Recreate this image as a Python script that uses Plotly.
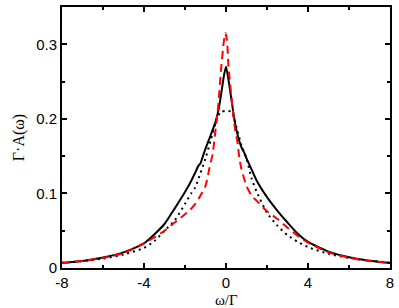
import plotly.graph_objects as go

# solid black curve
w_solid = [-8, -7, -6, -5, -4, -3.5, -3, -2.5, -2, -1.75, -1.5, -1.35, -1.25, -1.15, -1, -0.75,
           -0.5, -0.35, -0.2, -0.1, 0, 0.1, 0.2, 0.35, 0.5, 0.75, 0.9, 1, 1.1, 1.25, 1.5, 2,
           2.5, 3, 3.5, 4, 5, 6, 7, 8]
a_solid = [0.0067, 0.0095, 0.014, 0.021, 0.033, 0.045, 0.059, 0.08, 0.102, 0.114, 0.128, 0.137,
           0.140, 0.148, 0.16, 0.178, 0.197, 0.214, 0.24, 0.258, 0.27, 0.256, 0.238, 0.21,
           0.186, 0.162, 0.154, 0.147, 0.141, 0.132, 0.117, 0.095, 0.077, 0.061, 0.046, 0.035,
           0.022, 0.0145, 0.0098, 0.0067]

# red dashed curve
w_dash = [-8, -7, -6, -5, -4, -3.5, -3, -2.5, -2, -1.75, -1.5, -1.25, -1, -0.8, -0.65, -0.5,
          -0.38, -0.23, -0.1, -0.03, 0.05, 0.12, 0.2, 0.31, 0.45, 0.55, 0.65, 0.75, 1, 1.25,
          1.5, 2, 2.5, 3, 3.5, 4, 5, 6, 7, 8]
a_dash = [0.0067, 0.0095, 0.0135, 0.02, 0.033, 0.041, 0.05, 0.061, 0.072, 0.078, 0.086, 0.097,
          0.11, 0.135, 0.153, 0.188, 0.217, 0.27, 0.305, 0.315, 0.305, 0.27, 0.248, 0.217,
          0.185, 0.171, 0.148, 0.133, 0.11, 0.097, 0.09, 0.076, 0.066, 0.054, 0.043, 0.034,
          0.021, 0.014, 0.0095, 0.0067]

# black dotted curve
w_dot = [-8, -7, -6, -5, -4, -3.5, -3, -2.5, -2, -1.7, -1.5, -1.25, -1, -0.75, -0.5, -0.25,
         0, 0.25, 0.5, 0.75, 1, 1.25, 1.5, 2, 2.5, 3, 3.5, 4, 5, 6, 7, 8]
a_dot = [0.0072, 0.0093, 0.0125, 0.018, 0.027, 0.036, 0.05, 0.064, 0.086, 0.1, 0.108, 0.127,
         0.147, 0.171, 0.195, 0.21, 0.21, 0.21, 0.19, 0.165, 0.147, 0.12, 0.102, 0.074,
         0.057, 0.044, 0.035, 0.028, 0.019, 0.0135, 0.0098, 0.0072]

x_ticks = [-8, -4, 0, 4, 8]
x_labels = ["-8", "-4", "0", "4", "8"]
y_ticks = [0, 0.1, 0.2, 0.3]
y_labels = ["0", "0.1", "0.2", "0.3"]

fig = go.Figure()
fig.add_trace(go.Scatter(x=w_dot, y=a_dot, mode="lines",
                         line=dict(color="black", width=2, dash="2px,4px",
                                   shape="spline", smoothing=0.6)))
fig.add_trace(go.Scatter(x=w_solid, y=a_solid, mode="lines",
                         line=dict(color="black", width=2, shape="spline", smoothing=0.6)))
fig.add_trace(go.Scatter(x=w_dash, y=a_dash, mode="lines",
                         line=dict(color="#ff0000", width=2, dash="8px,5px",
                                   shape="spline", smoothing=0.6)))

axis_style = dict(showline=True, linecolor="black", linewidth=2, mirror="allticks",
                  ticks="inside", ticklen=5, tickwidth=1.5, tickcolor="black",
                  showgrid=False, zeroline=False,
                  tickfont=dict(family="Liberation Sans, Arial", size=15, color="black"))

fig.update_xaxes(range=[-8, 8], tickvals=x_ticks, ticktext=x_labels,
                 minor=dict(ticks="inside", ticklen=3, tickwidth=1.5, dtick=2,
                            tickcolor="black", showgrid=False),
                 **axis_style)
fig.update_yaxes(range=[0, 0.35], tickvals=y_ticks, ticktext=y_labels,
                 minor=dict(ticks="inside", ticklen=3, tickwidth=1.5, dtick=0.05,
                            tickcolor="black", showgrid=False),
                 title=dict(text="Γ·A(ω)", standoff=8,
                            font=dict(family="Liberation Serif, Times New Roman", size=16,
                                      color="black")),
                 **axis_style)

# x title placed as an annotation, just under the tick labels
fig.add_annotation(text="ω/Γ", xref="paper", yref="paper", x=0.5, y=-0.086,
                   xanchor="center", yanchor="top", showarrow=False,
                   font=dict(family="Liberation Serif, Times New Roman", size=15,
                             color="black"))

fig.update_layout(width=399, height=308, showlegend=False,
                  plot_bgcolor="white", paper_bgcolor="white",
                  margin=dict(l=62, r=5, t=6, b=40))

# page body has a default margin; remove it so the figure sits at the top-left corner
fig.write_html("out.html", config={"displayModeBar": False},
               post_script="document.body.style.margin='0';")
